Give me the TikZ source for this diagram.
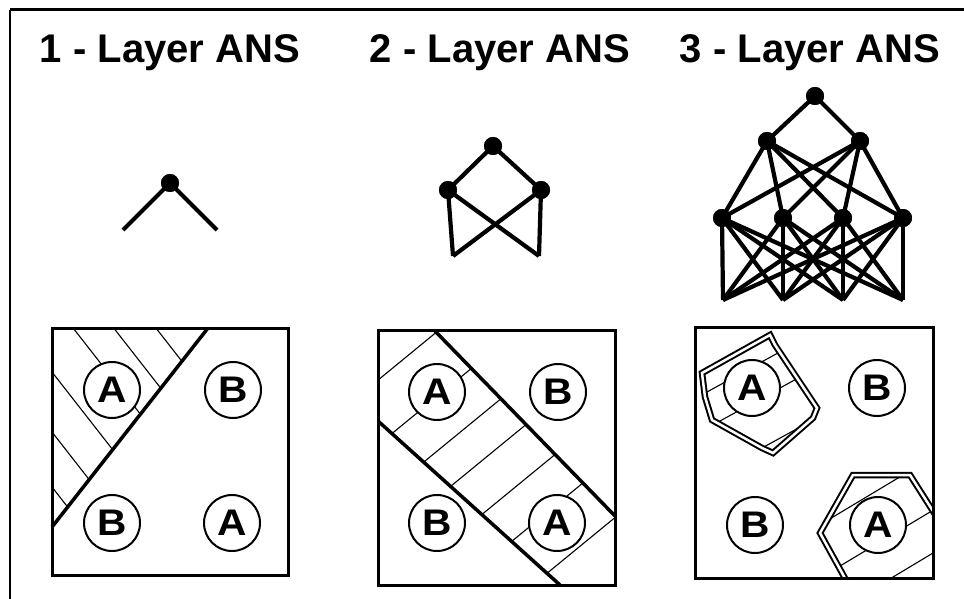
\documentclass[tikz,border=0pt]{standalone}
\usepackage{fontspec}
\usepackage{graphicx}
\setmainfont{Liberation Sans}
\begin{document}
\begin{tikzpicture}[x=1pt,y=-1pt,
  dot/.style={circle,fill=black,inner sep=0pt,minimum size=18pt},
  net/.style={line width=4.2pt},
  title/.style={anchor=base,font=\fontsize{40}{48}\selectfont\bfseries,inner sep=0pt},
  lbl/.style={circle,draw,line width=2pt,fill=white,minimum size=56pt,inner sep=0pt,font=\fontsize{37}{37}\selectfont\bfseries},
  boxline/.style={line width=3pt},
  hatch/.style={line width=1.1pt},
  band/.style={line width=3.5pt},
  dbl/.style={draw,double=white,double distance=2.5pt,line width=2pt}]
\useasboundingbox (0,0) rectangle (964,599);
% outer frame
\draw[line width=3pt] (10,10) -- (964,10);
\draw[line width=2pt] (10,10) -- (10,599);
% titles
\node[title] (t1) at (170,63) {1 - Layer ANS};
\node[title] (t2) at (500,63) {2 - Layer ANS};
\node[title] (t3) at (810,63) {3 - Layer ANS};
% ---------- 1-layer net
\node[dot] (a1) at (170,183) {};
\coordinate (a1l) at (123,230);
\coordinate (a1r) at (217,230);
\draw[net] (a1.center) -- (a1l);
\draw[net] (a1.center) -- (a1r);
% ---------- 2-layer net
\node[dot] (b0) at (493,146) {};
\node[dot] (b1) at (448,190) {};
\node[dot] (b2) at (541,190) {};
\coordinate (bq1) at (453,256);
\coordinate (bq2) at (539,256);
\draw[net] (b0.center) -- (b1.center) (b0.center) -- (b2.center);
\foreach \m in {b1,b2}{\foreach \q in {bq1,bq2}{\draw[net] (\m.center) -- (\q);}}
% ---------- 3-layer net
\node[dot] (c0) at (815,96) {};
\node[dot] (s1) at (767,141) {};
\node[dot] (s2) at (860,141) {};
\node[dot] (h1) at (722,218) {};
\node[dot] (h2) at (783,218) {};
\node[dot] (h3) at (843,218) {};
\node[dot] (h4) at (903,218) {};
\coordinate (q1) at (723,300);
\coordinate (q2) at (783,300);
\coordinate (q3) at (843,300);
\coordinate (q4) at (903,300);
\draw[net] (c0.center) -- (s1.center) (c0.center) -- (s2.center);
\foreach \s in {s1,s2}{\foreach \h in {h1,h2,h3,h4}{\draw[net] (\s.center) -- (\h.center);}}
\foreach \h in {h1,h2,h3,h4}{\foreach \q in {q1,q2,q3,q4}{\draw[net] (\h.center) -- (\q);}}
\foreach \n in {c0,s1,s2,h1,h2,h3,h4,b0,b1,b2,a1}{\fill (\n) circle (9pt);}
% ---------- box 1
\begin{scope}
  \clip (52,328) -- (208,328) -- (52,527) -- cycle;
  \foreach \y in {195,249,301,372,432,487}{\draw[hatch] (52,\y) -- ++(200,256);}
\end{scope}
\coordinate (d1a) at (208,328);
\coordinate (d1b) at (52,527);
\draw[band] (d1a) -- (d1b);
\node[lbl] (p1) at (112,390) {\scalebox{1.1}[1]{A}};
\node[lbl] (p2) at (233,390) {\scalebox{1.1}[1]{B}};
\node[lbl] (p3) at (112,523) {\scalebox{1.1}[1]{B}};
\node[lbl] (p4) at (232,523) {\scalebox{1.1}[1]{A}};
\draw[boxline] (52,328) rectangle (288,575);
% ---------- box 2
\begin{scope}
  \clip (378,330) -- (434,330) -- (615,516) -- (615,585) -- (560,585) -- (378,421) -- cycle;
  \foreach \x/\y in {433/335,467/372,497/402,523/427,552/457,578/487,612/520}{
    \draw[hatch] (\x+20,\y-16.4) -- ++(-240,196.8);}
\end{scope}
\coordinate (u1) at (434,330); \coordinate (u2) at (615,516);
\coordinate (l1) at (378,421); \coordinate (l2) at (560,585);
\draw[band] (u1) -- (u2);
\draw[band] (l1) -- (l2);
\node[lbl] (r1) at (437,392) {\scalebox{1.1}[1]{A}};
\node[lbl] (r2) at (558,392) {\scalebox{1.1}[1]{B}};
\node[lbl] (r3) at (437,523) {\scalebox{1.1}[1]{B}};
\node[lbl] (r4) at (557,523) {\scalebox{1.1}[1]{A}};
\draw[boxline] (378,330) rectangle (615,585);
% ---------- box 3
\begin{scope}
  \clip (702,373) -- (770,335) -- (775,345) -- (817,408) -- (813,418) -- (773,453) -- (762,448) -- (712,420) -- (705,397) -- cycle;
  \foreach \x/\y in {707/392,780/388,762/448}{\draw[hatch] (\x-60,\y+33) -- ++(200,-110);}
\end{scope}
\draw[dbl] (702,373) -- (770,335) -- (775,345) -- (817,408) -- (813,418) -- (773,453) -- (762,448) -- (712,420) -- (705,397) -- cycle;
\begin{scope}
  \clip (695,327) rectangle (933,578);
  \begin{scope}
    \clip (820,533) -- (853,475) -- (910,475) -- (945,530) -- (945,600) -- (857,600) -- cycle;
    \foreach \x/\y in {828/520,850/560,893/577}{\draw[hatch] (\x-60,\y+36) -- ++(200,-120);}
  \end{scope}
  \draw[dbl] (857,600) -- (820,533) -- (853,475) -- (910,475) -- (945,530);
\end{scope}
\node[lbl] (v1) at (752,388) {\scalebox{1.1}[1]{A}};
\node[lbl] (v2) at (877,388) {\scalebox{1.1}[1]{B}};
\node[lbl] (v3) at (755,525) {\scalebox{1.1}[1]{B}};
\node[lbl] (v4) at (878,525) {\scalebox{1.1}[1]{A}};
\draw[boxline] (695,327) rectangle (933,578);
\end{tikzpicture}
\end{document}
